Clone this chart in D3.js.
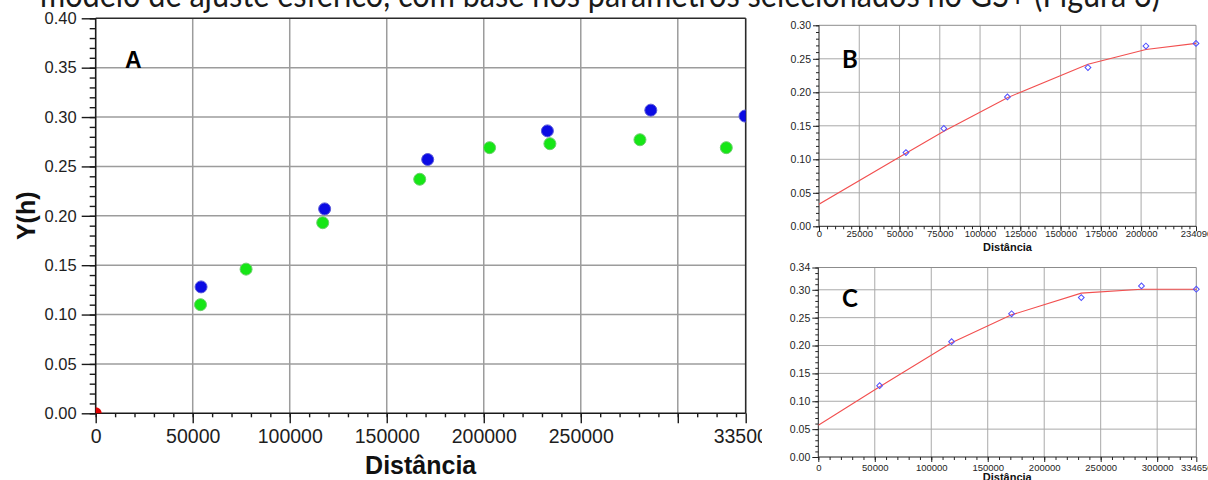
<!DOCTYPE html>
<html>
<head>
<meta charset="utf-8">
<script src="https://cdn.jsdelivr.net/npm/d3@7"></script>
<style>
  html, body { margin: 0; padding: 0; background: #fff; }
  svg { display: block; }
</style>
</head>
<body>
<svg id="chart" width="1208" height="480"></svg>
<script>
// ---- data -------------------------------------------------------------
// experimental semivariogram, first direction (green / panel B)
const lagGreen   = [54000, 77500, 117000, 167000, 203000, 234090, 280500, 325000];
const gammaGreen = [0.110, 0.146, 0.193, 0.237, 0.269, 0.273, 0.277, 0.269];
// experimental semivariogram, second direction (blue / panel C)
const lagBlue    = [54300, 118000, 171100, 232800, 286100, 334650];
const gammaBlue  = [0.128, 0.207, 0.257, 0.286, 0.307, 0.301];
// origin point
const lagOrigin   = [0];
const gammaOrigin = [0];
// fitted models
const modelLagB   = [0, 54000, 77500, 117000, 167000, 203000, 234090];
const modelGammaB = [0.033, 0.109, 0.142, 0.192, 0.242, 0.264, 0.273];
const modelLagC   = [0, 54300, 118000, 171100, 232800, 286100, 334650];
const modelGammaC = [0.057, 0.126, 0.205, 0.255, 0.294, 0.301, 0.301];

// tick values
const aYTicks      = [0, 0.05, 0.10, 0.15, 0.20, 0.25, 0.30, 0.35, 0.40];
const aXMajor      = [0, 50000, 100000, 150000, 200000, 250000, 300000, 335000];
const aXLabels     = [0, 50000, 100000, 150000, 200000, 250000, 335000];
const bYTicks      = [0, 0.05, 0.10, 0.15, 0.20, 0.25, 0.30];
const bXTicks      = [0, 25000, 50000, 75000, 100000, 125000, 150000, 175000, 200000, 234090];
const cYTicks      = [0, 0.05, 0.10, 0.15, 0.20, 0.25, 0.30, 0.34];
const cXTicks      = [0, 50000, 100000, 150000, 200000, 250000, 300000, 334650];

const caption = "modelo de ajuste esférico, com base nos parâmetros selecionados no GS+ (Figura 3)";

// ---- helpers ----------------------------------------------------------
const ARIAL = '"Liberation Sans", Arial, Helvetica, sans-serif';
const HUMAN = 'Lato, "Open Sans", sans-serif';
const svg = d3.select('#chart');
const defs = svg.append('defs');

function styleAxis(sel, stroke, width, font, size, fill) {
  sel.selectAll('.domain').remove();
  sel.selectAll('line').attr('stroke', stroke).attr('stroke-width', width);
  sel.selectAll('text')
    .attr('font-family', font).attr('font-size', size).attr('fill', fill);
}

function gridLines(g, x, y, xs, ys, color, width) {
  const [y0, y1] = y.range();
  const [x0, x1] = x.range();
  g.append('g').selectAll('line').data(xs).join('line')
    .attr('x1', d => x(d)).attr('x2', d => x(d))
    .attr('y1', y0).attr('y2', y1)
    .attr('stroke', color).attr('stroke-width', width);
  g.append('g').selectAll('line').data(ys).join('line')
    .attr('y1', d => y(d)).attr('y2', d => y(d))
    .attr('x1', x0).attr('x2', x1)
    .attr('stroke', color).attr('stroke-width', width);
}

function frame(g, x, y, stroke, width, axisStroke, axisWidth) {
  const [x0, x1] = x.range();
  const [y0, y1] = y.range();
  g.append('line').attr('x1', x0).attr('x2', x1).attr('y1', y1).attr('y2', y1)
    .attr('stroke', stroke).attr('stroke-width', width);
  g.append('line').attr('x1', x1).attr('x2', x1).attr('y1', y0).attr('y2', y1)
    .attr('stroke', stroke).attr('stroke-width', width);
  g.append('line').attr('x1', x0).attr('x2', x0).attr('y1', y0).attr('y2', y1)
    .attr('stroke', axisStroke).attr('stroke-width', axisWidth);
  g.append('line').attr('x1', x0).attr('x2', x1).attr('y1', y0).attr('y2', y0)
    .attr('stroke', axisStroke).attr('stroke-width', axisWidth);
}

function range(a, b, step) {
  const out = [];
  for (let i = 0; a + i * step <= b + 1e-9; i++) out.push(+(a + i * step).toFixed(6));
  return out;
}

// ---- caption line running off the top edge ----------------------------
svg.append('text')
  .attr('x', 40).attr('y', 7)
  .attr('font-family', HUMAN).attr('font-size', 34).attr('fill', '#1a1a1a')
  .attr('textLength', 1120).attr('lengthAdjust', 'spacingAndGlyphs')
  .text(caption);

// ---- panel A ----------------------------------------------------------
const xA = d3.scaleLinear().domain([0, 335000]).range([95.7, 745.7]);
const yA = d3.scaleLinear().domain([0, 0.40]).range([413.3, 18.3]);

defs.append('clipPath').attr('id', 'panelA')
  .append('rect').attr('x', 0).attr('y', 0).attr('width', 762).attr('height', 480);
defs.append('clipPath').attr('id', 'plotA')
  .append('rect').attr('x', xA(0)).attr('y', yA(0.40))
  .attr('width', xA(335000) - xA(0)).attr('height', yA(0) - yA(0.40));

const gA = svg.append('g').attr('clip-path', 'url(#panelA)');

gridLines(gA, xA, yA, aXMajor.slice(1, -1), aYTicks.slice(1, -1), '#9c9c9c', 1.5);
frame(gA, xA, yA, '#2a2a2a', 1.6, '#1a1a1a', 1.6);

// minor ticks
styleAxis(gA.append('g').attr('transform', `translate(${xA(0)},0)`)
  .call(d3.axisLeft(yA).tickValues(range(0, 0.40, 0.01)).tickSize(6).tickFormat('')),
  '#1a1a1a', 1.4, ARIAL, 0, '#000');
styleAxis(gA.append('g').attr('transform', `translate(0,${yA(0)})`)
  .call(d3.axisBottom(xA).tickValues(range(0, 330000, 10000)).tickSize(4).tickFormat('')),
  '#1a1a1a', 1.4, ARIAL, 0, '#000');
// major ticks and labels
styleAxis(gA.append('g').attr('transform', `translate(${xA(0)},0)`)
  .call(d3.axisLeft(yA).tickValues(aYTicks).tickSize(14).tickPadding(5).tickFormat(d3.format('.2f'))),
  '#1a1a1a', 1.4, ARIAL, 16.5, '#1e1e1e');
styleAxis(gA.append('g').attr('transform', `translate(0,${yA(0)})`)
  .call(d3.axisBottom(xA).tickValues(aXMajor).tickSize(10).tickPadding(6)
    .tickFormat(d => aXLabels.includes(d) ? String(d) : '')),
  '#1a1a1a', 1.4, ARIAL, 19.5, '#1e1e1e');

// points
const ptsA = gA.append('g').attr('clip-path', 'url(#plotA)');
ptsA.selectAll('.origin').data(lagOrigin).join('circle').attr('class', 'origin')
  .attr('cx', d => xA(d)).attr('cy', (d, i) => yA(gammaOrigin[i])).attr('r', 6)
  .attr('fill', '#e00000');
ptsA.selectAll('.green').data(lagGreen).join('circle').attr('class', 'green')
  .attr('cx', d => xA(d)).attr('cy', (d, i) => yA(gammaGreen[i])).attr('r', 6)
  .attr('fill', '#16e616').attr('stroke', '#6ccf6c').attr('stroke-width', 1);
ptsA.selectAll('.blue').data(lagBlue).join('circle').attr('class', 'blue')
  .attr('cx', d => xA(d)).attr('cy', (d, i) => yA(gammaBlue[i])).attr('r', 6)
  .attr('fill', '#0b0be4').attr('stroke', '#5a5ad8').attr('stroke-width', 1);

// titles
gA.append('text').attr('x', 125).attr('y', 68)
  .attr('font-family', ARIAL).attr('font-weight', 'bold').attr('font-size', 23).attr('fill', '#000')
  .text('A');
gA.append('text').attr('x', (xA(0) + xA(335000)) / 2).attr('y', 474)
  .attr('text-anchor', 'middle')
  .attr('font-family', ARIAL).attr('font-weight', 'bold').attr('font-size', 25).attr('fill', '#111')
  .text('Distância');
gA.append('text').attr('transform', `translate(35,${(yA(0) + yA(0.4)) / 2 + 0}) rotate(-90)`)
  .attr('text-anchor', 'middle')
  .attr('font-family', ARIAL).attr('font-weight', 'bold').attr('font-size', 25).attr('fill', '#111')
  .text('Y(h)');

// ---- small panels B and C ----------------------------------------------
function smallPanel(id, x, y, yTicks, xTicks, xGrid, yGrid, yMinorStep, xMinorStep,
                    lags, gammas, mLags, mGammas, letter, letterY, labelBase, titleBase) {
  const g = svg.append('g');
  gridLines(g, x, y, xGrid, yGrid, '#a9a9a9', 1);
  frame(g, x, y, '#8c8c8c', 1, '#222', 1);

  const [ymin, ymax] = y.domain();
  const [xmin, xmax] = x.domain();
  styleAxis(g.append('g').attr('transform', `translate(${x(0)},0)`)
    .call(d3.axisLeft(y).tickValues(range(ymin, ymax, yMinorStep)).tickSize(3).tickFormat('')),
    '#222', 1, ARIAL, 0, '#000');
  styleAxis(g.append('g').attr('transform', `translate(0,${y(0)})`)
    .call(d3.axisBottom(x).tickValues(range(xmin, xmax, xMinorStep)).tickSize(3).tickFormat('')),
    '#222', 1, ARIAL, 0, '#000');
  styleAxis(g.append('g').attr('transform', `translate(${x(0)},0)`)
    .call(d3.axisLeft(y).tickValues(yTicks).tickSize(6).tickPadding(2).tickFormat(d3.format('.2f'))),
    '#222', 1, ARIAL, 10.5, '#1e1e1e');
  const xa = g.append('g').attr('transform', `translate(0,${y(0)})`)
    .call(d3.axisBottom(x).tickValues(xTicks).tickSize(5).tickFormat(d3.format('d')));
  styleAxis(xa, '#222', 1, ARIAL, 9.5, '#1e1e1e');
  xa.selectAll('text').attr('dy', null).attr('y', labelBase - y(0));

  defs.append('clipPath').attr('id', id)
    .append('rect').attr('x', x.range()[0]).attr('y', y.range()[1] - 4)
    .attr('width', x.range()[1] - x.range()[0] + 4).attr('height', y.range()[0] - y.range()[1] + 4);
  const inner = g.append('g').attr('clip-path', `url(#${id})`);
  const line = d3.line().x(d => x(d[0])).y(d => y(d[1]));
  inner.append('path').datum(mLags.map((d, i) => [d, mGammas[i]]))
    .attr('d', line).attr('fill', 'none').attr('stroke', '#f25050').attr('stroke-width', 1.1);
  inner.selectAll('path.pt').data(lags).join('path').attr('class', 'pt')
    .attr('d', d3.symbol(d3.symbolSquare, 17)())
    .attr('transform', (d, i) => `translate(${x(d)},${y(gammas[i])}) rotate(45)`)
    .attr('fill', 'none').attr('stroke', '#5050ff').attr('stroke-width', 1);

  g.append('text').attr('x', 842).attr('y', letterY)
    .attr('font-family', HUMAN).attr('font-weight', 'bold').attr('font-size', 24).attr('fill', '#000')
    .text(letter);
  g.append('text').attr('x', (x.range()[0] + x.range()[1]) / 2).attr('y', titleBase)
    .attr('text-anchor', 'middle')
    .attr('font-family', ARIAL).attr('font-weight', 'bold').attr('font-size', 11).attr('fill', '#111')
    .text('Distância');
}

const xB = d3.scaleLinear().domain([0, 234090]).range([819, 1196]);
const yB = d3.scaleLinear().domain([0, 0.30]).range([226.3, 25.3]);
smallPanel('plotB', xB, yB, bYTicks, bXTicks,
  bXTicks.slice(1, -1), bYTicks.slice(1, -1), 0.01, 5000,
  lagGreen.slice(0, 6), gammaGreen.slice(0, 6), modelLagB, modelGammaB,
  'B', 68, 237, 251);

const xC = d3.scaleLinear().domain([0, 334650]).range([818.3, 1196.3]);
const yC = d3.scaleLinear().domain([0, 0.34]).range([457, 267.5]);
smallPanel('plotC', xC, yC, cYTicks, cXTicks,
  cXTicks.slice(1, -1), cYTicks.slice(1, -1), 0.01, 10000,
  lagBlue, gammaBlue, modelLagC, modelGammaC,
  'C', 306.5, 470.5, 481);
</script>
</body>
</html>
